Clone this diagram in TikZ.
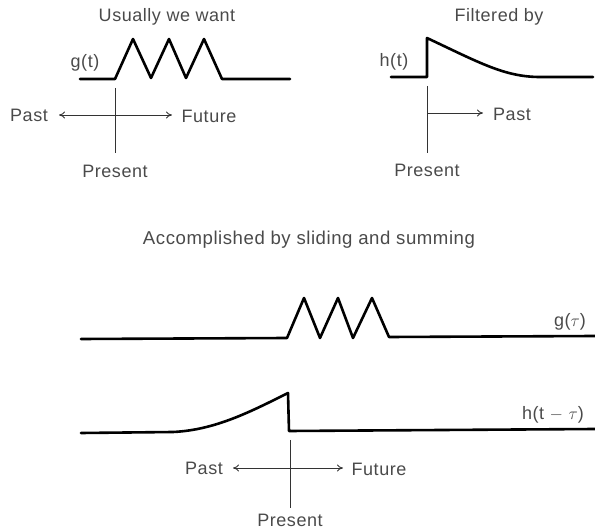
\documentclass[tikz,border=0pt]{standalone}
\usepackage{fontspec}
\setmainfont{Liberation Sans}[LetterSpace=3]
\usetikzlibrary{arrows.meta}
\definecolor{ink}{HTML}{4A4A4A}
\tikzset{
  wave/.style={line width=2.6pt, line join=round, line cap=round, black},
  axis/.style={line width=0.9pt, black!80},
  lbl/.style={text=ink, font=\fontsize{18}{21}\selectfont, inner sep=0pt},
  dir/.style={axis, {To[length=6pt,width=7pt]}-{To[length=6pt,width=7pt]}},
  fwd/.style={axis, -{To[length=6pt,width=7pt]}}
}
\begin{document}
\begin{tikzpicture}[x=1pt,y=-1pt]
\useasboundingbox (0,0) rectangle (595,529);

% ---- top left: the input g(t)
\node[lbl] (t1) at (167,17) {Usually we want};
\node[lbl] (gt) at (85,63) {g(t)};
\draw[wave] (80,79) -- (115,79) -- (133,39) -- (151,78) -- (169,39) -- (186,78)
  -- (204,39) -- (222,79) -- (290,79);
\coordinate (p1top) at (115,88);
\coordinate (p1bot) at (115,153);
\draw[axis] (p1top) -- (p1bot);
\coordinate (a1l) at (59,115);
\coordinate (a1r) at (172,115);
\draw[dir] (a1l) -- (a1r);
\node[lbl] (past1) at (29,115) {Past};
\node[lbl] (fut1) at (209,116) {Future};
\node[lbl] (pres1) at (115,171) {Present};

% ---- top right: the filter h(t)
\node[lbl] (t2) at (499,17) {Filtered by};
\node[lbl] (ht) at (394,62) {h(t)};
\draw[wave] (391,77) -- (427,77) -- (427,38)
  .. controls (480,63) and (505,77) .. (540,77) -- (593,77);
\coordinate (p2top) at (427,86);
\coordinate (p2bot) at (427,153);
\draw[axis] (p2top) -- (p2bot);
\coordinate (a2l) at (427,113);
\coordinate (a2r) at (483,113);
\draw[fwd] (a2l) -- (a2r);
\node[lbl] (past2) at (512,114) {Past};
\node[lbl] (pres2) at (427,170) {Present};

% ---- middle caption
\node[lbl, font=\fontsize{18.6}{22}\selectfont] (t3) at (309,240)
  {Accomplished by sliding and summing};

% ---- bottom: g(tau) and the reversed, shifted filter
\draw[wave] (81,339) -- (287,338) -- (304,298) -- (320,338) -- (338,298)
  -- (353,338) -- (372,298) -- (389,337) -- (595,336);
\node[lbl] (gtau) at (570,322) {g($\tau$)};

\draw[wave] (81,433) -- (173,432)
  .. controls (215,430) and (250,412) .. (288,393) -- (289,431) -- (595,429);
\node[lbl] (htau) at (553,415) {h(t $-$ $\tau$)};

\coordinate (p3top) at (290,440);
\coordinate (p3bot) at (290,508);
\draw[axis] (p3top) -- (p3bot);
\coordinate (a3l) at (233,468);
\coordinate (a3r) at (343,468);
\draw[dir] (a3l) -- (a3r);
\node[lbl] (past3) at (204,468) {Past};
\node[lbl] (fut3) at (379,469) {Future};
\node[lbl] (pres3) at (290,520) {Present};
\end{tikzpicture}
\end{document}
